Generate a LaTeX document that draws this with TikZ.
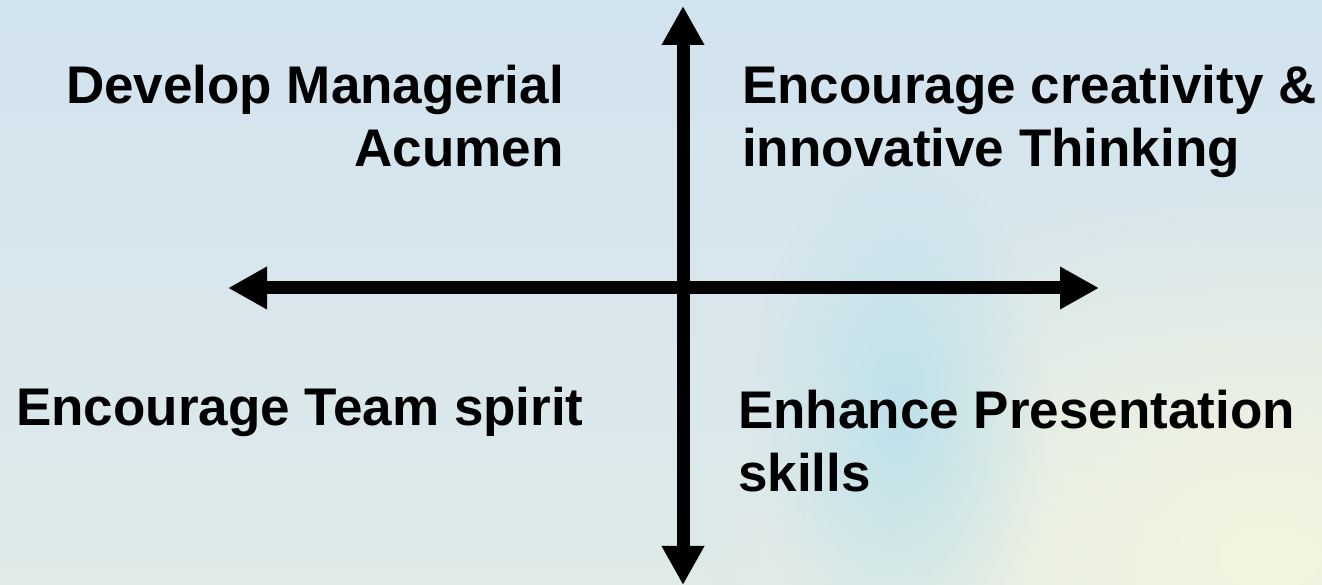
\documentclass[tikz,border=0pt]{standalone}
\usepackage{fontspec}
\setmainfont{Liberation Sans}
\usetikzlibrary{arrows.meta,fadings}
\definecolor{bgtop}{RGB}{210,227,240}
\definecolor{bgbot}{RGB}{223,234,233}
\definecolor{bgcyan}{RGB}{190,225,235}
\definecolor{bgyel}{RGB}{243,245,222}
\tikzfading[name=softblob, inner color=transparent!0, outer color=transparent!100]
\tikzset{
  axisline/.style={line width=13pt, {Triangle[length=39pt,width=40pt]}-{Triangle[length=39pt,width=40pt]}},
  quadtext/.style={inner sep=0pt, font=\bfseries\fontsize{53}{63}\selectfont}
}
\begin{document}
\begin{tikzpicture}[x=1pt,y=1pt]
    \useasboundingbox (0,0) rectangle (1322,585);
    \shade[top color=bgtop, bottom color=bgbot] (0,0) rectangle (1322,585);
    \fill[bgyel, path fading=softblob] (1270,30) ellipse (560 and 380);
    \fill[bgcyan, path fading=softblob] (900,170) ellipse (150 and 260);

    \coordinate (top) at (683,579);
    \coordinate (bottom) at (683,0);
    \coordinate (left) at (228,297);
    \coordinate (right) at (1099,297);
    \draw[axisline] (left) -- (right);
    \draw[axisline] (bottom) -- (top);

    \node[quadtext, anchor=base east, align=right] (managerial) at (564,418) {Develop Managerial\\Acumen};
    \node[quadtext, anchor=base west, align=left] (creativity) at (742,418) {Encourage creativity \&\\innovative Thinking};
    \node[quadtext, anchor=base west, align=left] (team) at (16,159) {Encourage Team spirit};
    \node[quadtext, anchor=base west, align=left] (presentation) at (738,93) {Enhance Presentation\\skills};
\end{tikzpicture}
\end{document}
